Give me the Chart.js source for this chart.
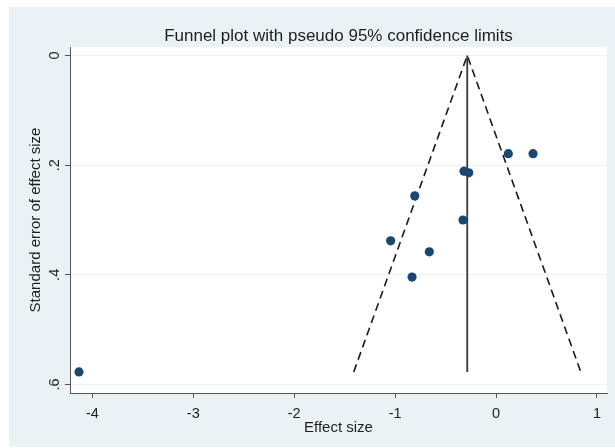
<!DOCTYPE html>
<html>
<head>
<meta charset="utf-8">
<script src="https://cdn.jsdelivr.net/npm/chart.js@4/dist/chart.umd.min.js"></script>
<style>
  html, body { margin: 0; padding: 0; background: #ffffff; }
  #wrap { width: 615px; height: 448px; }
</style>
</head>
<body>
<div id="wrap"><canvas id="c" width="615" height="448"></canvas></div>
<script>
// ---- data ----
const effectSize = [0.122, 0.367, -0.317, -0.270, -0.805, -0.327, -1.044, -0.661, -0.832, -4.133];
const standardError = [0.179, 0.179, 0.211, 0.214, 0.256, 0.300, 0.338, 0.358, 0.404, 0.577];
// funnel (pseudo 95% limits): lower-left end, apex, lower-right end
const funnelX = [-1.41, -0.285, 0.84];
const funnelSE = [0.577, 0, 0.577];
// pooled effect vertical line
const pooledX = [-0.285, -0.285];
const pooledSE = [0, 0.577];
const xTicks = [-4, -3, -2, -1, 0, 1];
const yTicks = [0, 0.2, 0.4, 0.6];

const FONT = '"Liberation Sans", Arial, sans-serif';
const TXT = '#1e1e1e';
const AXIS = '#555555';
const BG = '#eaf2f3';

const pts = effectSize.map((x, i) => ({ x: x, y: standardError[i] }));
const funnel = funnelX.map((x, i) => ({ x: x, y: funnelSE[i] }));
const pooled = pooledX.map((x, i) => ({ x: x, y: pooledSE[i] }));

const bgPlugin = {
  id: 'bgPlugin',
  beforeDraw(chart) {
    const ctx = chart.ctx, a = chart.chartArea;
    ctx.save();
    ctx.fillStyle = '#ffffff';
    ctx.fillRect(0, 0, chart.width, chart.height);
    ctx.fillStyle = BG;
    ctx.fillRect(9, 7, chart.width - 9, chart.height - 8);
    ctx.fillStyle = '#ffffff';
    ctx.fillRect(a.left, a.top, a.right - a.left, a.bottom - a.top);
    ctx.restore();
  }
};

new Chart(document.getElementById('c'), {
  type: 'scatter',
  data: {
    datasets: [
      {
        label: 'Studies',
        data: pts,
        pointRadius: 4.6,
        pointHoverRadius: 4.6,
        pointBackgroundColor: '#1a476f',
        pointBorderColor: '#1a476f',
        pointBorderWidth: 0,
        showLine: false
      },
      {
        label: 'Pooled',
        data: pooled,
        showLine: true,
        pointRadius: 0,
        borderColor: '#3a3a3a',
        borderWidth: 1.8,
        fill: false
      },
      {
        label: 'Funnel',
        data: funnel,
        showLine: true,
        pointRadius: 0,
        borderColor: '#1a1a1a',
        borderWidth: 1.6,
        borderDash: [8, 5],
        fill: false,
        tension: 0
      }
    ]
  },
  options: {
    responsive: false,
    animation: false,
    layout: { padding: { top: 8, left: 8, right: 8, bottom: 0 } },
    plugins: {
      legend: { display: false },
      tooltip: { enabled: false },
      title: {
        display: true,
        fullSize: false,
        text: 'Funnel plot with pseudo 95% confidence limits',
        color: TXT,
        font: { family: FONT, size: 17, weight: 'normal', lineHeight: 1.2 },
        padding: { top: 18, bottom: 0.6 }
      }
    },
    scales: {
      x: {
        type: 'linear',
        min: -4.222,
        max: 1.10,
        afterBuildTicks: (s) => { s.ticks = xTicks.map(v => ({ value: v })); },
        afterFit: (s) => { s.height = 55; },
        ticks: {
          color: TXT,
          font: { family: FONT, size: 14.5 },
          padding: 7,
          maxRotation: 0,
          minRotation: 0,
          callback: (v) => String(v)
        },
        grid: {
          drawOnChartArea: false,
          drawTicks: true,
          tickLength: 5,
          tickColor: AXIS,
          tickWidth: 1
        },
        border: { display: true, color: AXIS, width: 1 },
        title: {
          display: true,
          text: 'Effect size',
          color: TXT,
          font: { family: FONT, size: 15, lineHeight: 1.2 },
          padding: { top: 0, bottom: 11.5 }
        }
      },
      y: {
        type: 'linear',
        reverse: true,
        min: -0.0155,
        max: 0.6155,
        afterBuildTicks: (s) => { s.ticks = yTicks.map(v => ({ value: v })); },
        afterFit: (s) => { s.width = 62; },
        ticks: {
          color: TXT,
          font: { family: FONT, size: 14.5 },
          padding: 4,
          minRotation: 90,
          maxRotation: 90,
          crossAlign: 'center',
          callback: (v) => (v === 0 ? '0' : v.toFixed(1).replace(/^0\./, '.'))
        },
        grid: {
          drawOnChartArea: true,
          color: BG,
          lineWidth: 1,
          drawTicks: true,
          tickLength: 5,
          tickColor: AXIS,
          tickWidth: 1
        },
        border: { display: true, color: AXIS, width: 1 },
        title: {
          display: true,
          text: 'Standard error of effect size',
          color: TXT,
          font: { family: FONT, size: 15, lineHeight: 1.2 },
          padding: { top: 19, bottom: 0 }
        }
      }
    }
  },
  plugins: [bgPlugin]
});
</script>
</body>
</html>
